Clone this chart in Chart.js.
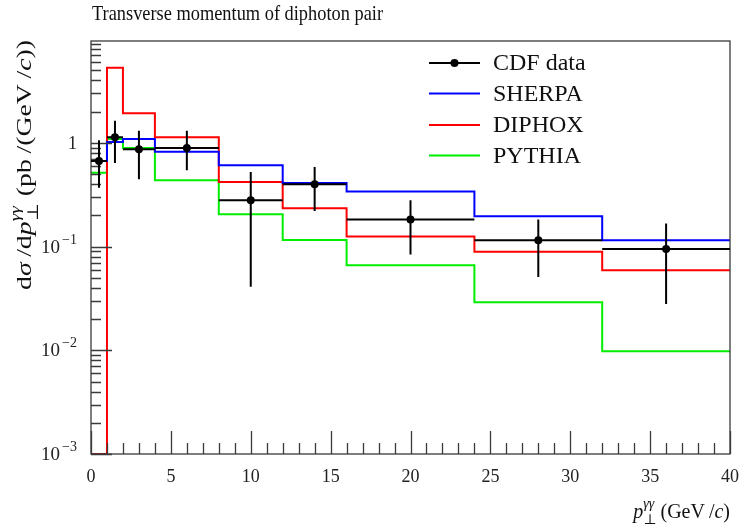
<!DOCTYPE html>
<html>
<head>
<meta charset="utf-8">
<script src="https://cdn.jsdelivr.net/npm/chart.js@4.4.1/dist/chart.umd.min.js"></script>
<style>
  html, body { margin: 0; padding: 0; background: #fff; }
  #wrap { position: relative; width: 742px; height: 524px; }
</style>
</head>
<body>
<div id="wrap"><canvas id="c"></canvas></div>
<script>
// diphoton pT spectrum: CDF data vs. three predictions (histograms, log y)
const binEdges = [0, 1, 2, 4, 8, 12, 16, 24, 32, 40];
const sherpa   = [0.67, 1.02, 1.09, 0.82, 0.61, 0.41, 0.34, 0.196, 0.115];
const diphox   = [0, 5.3, 1.93, 1.13, 0.42, 0.234, 0.125, 0.089, 0.059];
const pythia   = [0.515, 1.09, 0.89, 0.435, 0.205, 0.116, 0.066, 0.029, 0.0098];
const cdfX     = [0.5, 1.5, 3, 6, 10, 14, 20, 28, 36];
const cdfY     = [0.67, 1.13, 0.87, 0.89, 0.28, 0.40, 0.182, 0.115, 0.095];
const cdfHi    = [1.06, 1.63, 1.31, 1.31, 0.524, 0.585, 0.28, 0.182, 0.167];
const cdfLo    = [0.37, 0.64, 0.446, 0.543, 0.041, 0.22, 0.084, 0.051, 0.028];
const yLabels  = [[1, "1"], [0.1, "−1"], [0.01, "−2"], [0.001, "−3"]];
const Y_MIN = 0.001, Y_MAX = 9.6, X_MIN = 0, X_MAX = 40;

const SERIF = '"Liberation Serif", "DejaVu Serif", serif';
const AXIS = "#3a3a3a";

// histogram -> step outline (empty bins pinned to the axis floor)
const steps = (vals) => vals.flatMap((v, i) => {
  const y = v > 0 ? v : Y_MIN;
  return [{ x: binEdges[i], y }, { x: binEdges[i + 1], y }];
});
const histo = (label, color, vals) => ({
  label, data: steps(vals), borderColor: color, backgroundColor: color,
  borderWidth: 2, pointRadius: 0, tension: 0, fill: false,
});

// text runs with italic / sub / sup pieces
function pieces(ctx, parts, size) {
  return parts.map(p => {
    const s = p.sub || p.sup ? size * 0.7 : size;
    const f = `${p.it ? "italic " : ""}${s}px ${SERIF}`;
    ctx.font = f;
    return { ...p, f, w: ctx.measureText(p.t).width };
  });
}
function layoutRich(ctx, parts, size, draw, x, y) {
  const ps = pieces(ctx, parts, size);
  let cx = x || 0;
  for (let i = 0; i < ps.length; i++) {
    const p = ps[i];
    if (p.sub && ps[i + 1] && ps[i + 1].sup) {
      const q = ps[i + 1];
      if (draw) {
        ctx.font = p.f; ctx.fillText(p.t, cx, y + size * 0.3);
        ctx.font = q.f; ctx.fillText(q.t, cx, y - size * 0.5);
      }
      cx += Math.max(p.w, q.w);
      i++;
      continue;
    }
    if (draw) {
      ctx.font = p.f;
      ctx.fillText(p.t, cx, y + (p.sub ? size * 0.3 : p.sup ? -size * 0.5 : 0));
    }
    cx += p.w;
  }
  return cx - (x || 0);
}

const HS = "\u2009";
const yTitle = [
  { t: "d" }, { t: "σ", it: true }, { t: HS + "/d" }, { t: "p", it: true },
  { t: "⊥", sub: true }, { t: "γγ", sup: true, it: true },
  { t: " (pb" + HS + "/(GeV" + HS + "/" }, { t: "c", it: true }, { t: "))" },
];
const xTitle = [
  { t: "p", it: true }, { t: "⊥", sub: true }, { t: "γγ", sup: true, it: true },
  { t: HS + "(GeV" + HS + "/" }, { t: "c", it: true }, { t: ")" },
];

const frame = {
  id: "frame",
  afterDatasetsDraw(chart) {
    const { ctx, chartArea: a, scales: { x, y } } = chart;
    ctx.save();
    ctx.strokeStyle = AXIS;
    ctx.lineWidth = 1.3;
    ctx.strokeRect(a.left, a.top, a.right - a.left, a.bottom - a.top);
    ctx.beginPath();
    // x ticks: major every 5, minor every 1
    for (let v = X_MIN; v <= X_MAX; v++) {
      const px = Math.round(x.getPixelForValue(v)) + 0.5;
      const len = v % 5 === 0 ? 23 : 11;
      ctx.moveTo(px, a.bottom); ctx.lineTo(px, a.bottom - len);
    }
    // y ticks: decades long, 2..9 short
    for (let d = -3; d <= 0; d++) {
      for (let k = 1; k <= 9; k++) {
        const v = k * Math.pow(10, d);
        if (v < Y_MIN || v > Y_MAX) continue;
        const py = Math.round(y.getPixelForValue(v)) + 0.5;
        ctx.moveTo(a.left, py); ctx.lineTo(a.left + (k === 1 ? 21 : 10), py);
      }
    }
    ctx.stroke();

    // CDF error bars (vertical = stat. error, horizontal = bin width)
    ctx.strokeStyle = "#000";
    ctx.lineWidth = 2;
    ctx.beginPath();
    cdfX.forEach((xv, i) => {
      const px = x.getPixelForValue(xv);
      ctx.moveTo(px, y.getPixelForValue(cdfLo[i]));
      ctx.lineTo(px, y.getPixelForValue(cdfHi[i]));
      const py = y.getPixelForValue(cdfY[i]);
      ctx.moveTo(x.getPixelForValue(binEdges[i]), py);
      ctx.lineTo(x.getPixelForValue(binEdges[i + 1]), py);
    });
    ctx.stroke();
    ctx.fillStyle = "#000";
    cdfX.forEach((xv, i) => {
      ctx.beginPath();
      ctx.arc(x.getPixelForValue(xv), y.getPixelForValue(cdfY[i]), 4, 0, Math.PI * 2);
      ctx.fill();
    });

    // y tick labels: 1, 10^-n
    ctx.fillStyle = "#222";
    ctx.textBaseline = "alphabetic";
    ctx.textAlign = "right";
    yLabels.forEach(([v, e]) => {
      const py = y.getPixelForValue(v);
      if (v === 1) {
        ctx.font = `18px ${SERIF}`;
        ctx.fillText(e, 77, py + 6);
        return;
      }
      ctx.font = `14px ${SERIF}`;
      const ew = ctx.measureText(e).width;
      ctx.fillText(e, 77, py - 3);
      ctx.font = `19px ${SERIF}`;
      ctx.fillText("10", 77 - ew - 2, py + 6);
    });

    // title, fitted to its box width
    ctx.textAlign = "left";
    ctx.fillStyle = "#111";
    ctx.font = `21px ${SERIF}`;
    const title = "Transverse momentum of diphoton pair";
    const tw = ctx.measureText(title).width;
    ctx.save();
    ctx.translate(92, 20);
    ctx.scale(291 / tw, 1);
    ctx.fillText(title, 0, 0);
    ctx.restore();

    // x title, right aligned at plot edge
    const xw = layoutRich(ctx, xTitle, 20, false);
    layoutRich(ctx, xTitle, 20, true, a.right - xw, 518);

    // y title, rotated and stretched to span 40..290
    const yw = layoutRich(ctx, yTitle, 22, false);
    ctx.save();
    ctx.translate(31, 165);
    ctx.rotate(-Math.PI / 2);
    ctx.scale(250 / yw, 1);
    layoutRich(ctx, yTitle, 22, true, -yw / 2, 0);
    ctx.restore();

    // legend
    const rows = [63, 93.5, 125, 155.5];
    chart.data.datasets.forEach((ds, i) => {
      const ry = rows[i];
      ctx.strokeStyle = ds.borderColor;
      ctx.lineWidth = 2;
      ctx.beginPath(); ctx.moveTo(429, ry); ctx.lineTo(480, ry); ctx.stroke();
      if (i === 0) {
        ctx.fillStyle = "#000";
        ctx.beginPath(); ctx.arc(454.5, ry, 4, 0, Math.PI * 2); ctx.fill();
      }
      ctx.fillStyle = "#111";
      ctx.font = `24px ${SERIF}`;
      ctx.textBaseline = "middle";
      ctx.fillText(ds.label, 493, ry + 1);
    });
    ctx.restore();
  },
};

new Chart(document.getElementById("c"), {
  type: "line",
  data: {
    datasets: [
      { label: "CDF data", data: cdfX.map((x, i) => ({ x, y: cdfY[i] })),
        showLine: false, pointRadius: 0, borderColor: "#000", backgroundColor: "#000" },
      histo("SHERPA", "#0000ff", sherpa),
      histo("DIPHOX", "#ff0000", diphox),
      histo("PYTHIA", "#00ee00", pythia),
    ],
  },
  options: {
    responsive: true, maintainAspectRatio: false, animation: false,
    layout: { padding: { top: 41, right: 12, left: 0, bottom: 0 } },
    plugins: { legend: { display: false }, tooltip: { enabled: false } },
    scales: {
      x: {
        type: "linear", min: X_MIN, max: X_MAX,
        grid: { display: false, drawTicks: false }, border: { display: false },
        ticks: { stepSize: 5, padding: 12, color: "#222", font: { family: SERIF, size: 18 } },
        afterFit: (s) => { s.height = 70; s.paddingLeft = 0; s.paddingRight = 0; },
      },
      y: {
        type: "logarithmic", min: Y_MIN, max: Y_MAX,
        grid: { display: false, drawTicks: false }, border: { display: false },
        ticks: { display: false },
        afterFit: (s) => { s.width = 91; s.paddingTop = 0; s.paddingBottom = 0; },
      },
    },
  },
  plugins: [frame],
});
</script>
</body>
</html>
